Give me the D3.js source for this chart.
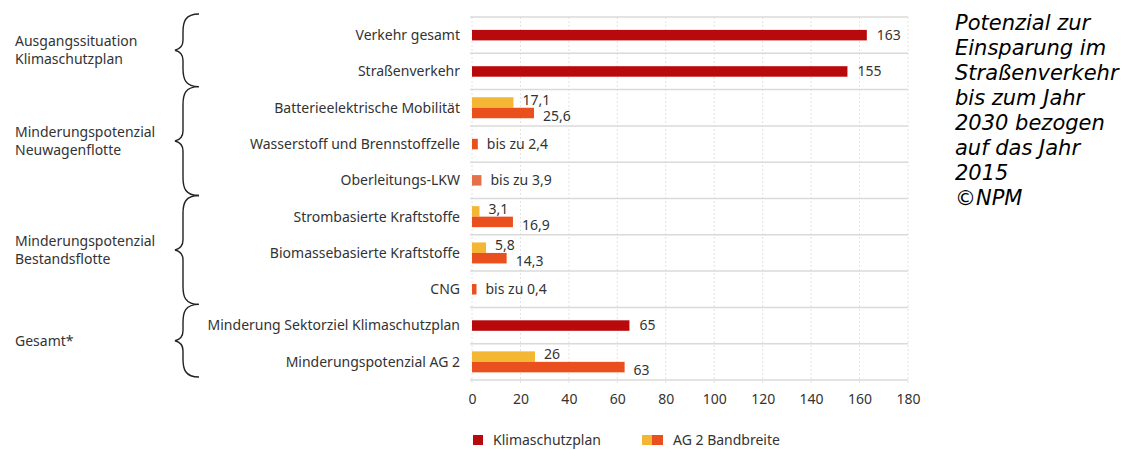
<!DOCTYPE html>
<html>
<head>
<meta charset="utf-8">
<script src="https://cdn.jsdelivr.net/npm/d3@7"></script>
<style>
  body { margin: 0; background: #fff; }
  svg text { font-family: "Noto Sans", sans-serif; fill: #333; }
</style>
</head>
<body>
<div id="chart"></div>
<script>
// Categories (top to bottom)
var categories = [
  'Verkehr gesamt',
  'Straßenverkehr',
  'Batterieelektrische Mobilität',
  'Wasserstoff und Brennstoffzelle',
  'Oberleitungs-LKW',
  'Strombasierte Kraftstoffe',
  'Biomassebasierte Kraftstoffe',
  'CNG',
  'Minderung Sektorziel Klimaschutzplan',
  'Minderungspotenzial AG 2'
]

// Klimaschutzplan values
var klima = [163, 155, null, null, null, null, null, null, 65, null]
// AG 2 Bandbreite: lower and upper end
var agLow = [null, null, 17.1, null, null, 3.1, 5.8, null, null, 26]
var agHigh = [null, null, 25.6, 2.4, 3.9, 16.9, 14.3, 0.4, null, 63]
// rows labelled "bis zu"
var upTo = ['Wasserstoff und Brennstoffzelle', 'Oberleitungs-LKW', 'CNG']

// Group brackets
var groups = [
  { lines: ['Ausgangssituation', 'Klimaschutzplan'], from: 0, to: 1 },
  { lines: ['Minderungspotenzial', 'Neuwagenflotte'], from: 2, to: 4 },
  { lines: ['Minderungspotenzial', 'Bestandsflotte'], from: 5, to: 7 },
  { lines: ['Gesamt*'], from: 8, to: 9 }
]

var xTicks = [0, 20, 40, 60, 80, 100, 120, 140, 160, 180]

var note = ['Potenzial zur', 'Einsparung im', 'Straßenverkehr', 'bis zum Jahr',
  '2030 bezogen', 'auf das Jahr', '2015', '©NPM']

var colors = {
  klima: '#b8090d',
  low: '#f4b733',
  high: '#e9501d',
  highLight: '#e5714b',
  grid: '#dadada'
}

var width = 1122
var height = 450
var barH = 10.5

var svg = d3.select('#chart').append('svg')
  .attr('width', width)
  .attr('height', height)

var x = d3.scaleLinear().domain([0, 180]).range([472, 908])
var y = d3.scaleBand().domain(categories).range([17, 380])

function fmt(v) {
  return String(v).replace('.', ',')
}

// vertical dotted grid
svg.append('g')
  .selectAll('line')
  .data(xTicks)
  .enter()
  .append('line')
  .attr('x1', function(d) { return x(d) })
  .attr('x2', function(d) { return x(d) })
  .attr('y1', 17)
  .attr('y2', 385)
  .style('stroke', '#e2e2e2')
  .style('stroke-width', 1)
  .style('stroke-dasharray', '2,2')

// horizontal row lines
var bounds = categories.map(function(c) { return y(c) }).concat([y.range()[1]])
svg.append('g')
  .selectAll('line')
  .data(bounds)
  .enter()
  .append('line')
  .attr('x1', x(0) - 2)
  .attr('x2', x(180))
  .attr('y1', function(d) { return d })
  .attr('y2', function(d) { return d })
  .style('stroke', colors.grid)
  .style('stroke-width', 1.5)

// x axis labels
var xAxis = d3.axisBottom(x).tickValues(xTicks).tickSize(0).tickPadding(0)
var ax = svg.append('g')
  .attr('transform', 'translate(0,394)')
  .call(xAxis)
ax.select('.domain').remove()
ax.selectAll('text')
  .style('font-size', '14px')
  .style('font-family', '"Noto Sans", sans-serif')
  .attr('fill', '#333')

// category labels
svg.append('g')
  .selectAll('text')
  .data(categories)
  .enter()
  .append('text')
  .attr('x', 460)
  .attr('y', function(d) { return y(d) + y.bandwidth() / 2 })
  .attr('dy', '0.35em')
  .attr('text-anchor', 'end')
  .style('font-size', '14px')
  .text(function(d) { return d })

// bars
var rows = categories.map(function(c, i) {
  return { cat: c, klima: klima[i], low: agLow[i], high: agHigh[i], upTo: upTo.indexOf(c) >= 0 }
})
var bars = svg.append('g')

function barWidth(v) {
  return Math.max(x(v) - x(0), 4.5)
}

rows.forEach(function(r) {
  var cy = y(r.cat) + y.bandwidth() / 2
  if (r.klima != null) {
    bars.append('rect')
      .attr('x', x(0)).attr('y', cy - barH / 2)
      .attr('width', barWidth(r.klima)).attr('height', barH)
      .style('fill', colors.klima)
    bars.append('text')
      .attr('x', x(r.klima) + 10).attr('y', cy).attr('dy', '0.35em')
      .style('font-size', '14px')
      .text(fmt(r.klima))
  } else if (r.low == null) {
    bars.append('rect')
      .attr('x', x(0)).attr('y', cy - barH / 2)
      .attr('width', barWidth(r.high)).attr('height', barH)
      .style('fill', r.cat === 'Oberleitungs-LKW' ? colors.highLight : colors.high)
    bars.append('text')
      .attr('x', x(0) + barWidth(r.high) + 9).attr('y', cy).attr('dy', '0.35em')
      .style('font-size', '14px')
      .text('bis zu ' + fmt(r.high))
  } else {
    bars.append('rect')
      .attr('x', x(0)).attr('y', cy - barH)
      .attr('width', barWidth(r.low)).attr('height', barH)
      .style('fill', colors.low)
    bars.append('rect')
      .attr('x', x(0)).attr('y', cy)
      .attr('width', barWidth(r.high)).attr('height', barH)
      .style('fill', colors.high)
    bars.append('text')
      .attr('x', x(r.low) + 9).attr('y', cy - 7.5).attr('dy', '0.35em')
      .style('font-size', '14px')
      .text(fmt(r.low))
    bars.append('text')
      .attr('x', x(r.high) + 9).attr('y', cy + 8.5).attr('dy', '0.35em')
      .style('font-size', '14px')
      .text(fmt(r.high))
  }
})

// group brackets and labels
function brace(xr, y0, y1) {
  var xm = xr - 16
  var xl = xr - 24
  var ym = (y0 + y1) / 2
  return 'M' + xr + ',' + y0 +
    'C' + (xm + 2) + ',' + y0 + ' ' + xm + ',' + (y0 + 8) + ' ' + xm + ',' + (y0 + 18) +
    'L' + xm + ',' + (ym - 10) +
    'C' + xm + ',' + (ym - 4) + ' ' + (xl + 4) + ',' + (ym - 1) + ' ' + xl + ',' + ym +
    'C' + (xl + 4) + ',' + (ym + 1) + ' ' + xm + ',' + (ym + 4) + ' ' + xm + ',' + (ym + 10) +
    'L' + xm + ',' + (y1 - 18) +
    'C' + xm + ',' + (y1 - 8) + ' ' + (xm + 2) + ',' + y1 + ' ' + xr + ',' + y1
}

groups.forEach(function(g) {
  var y0 = y(categories[g.from]) - 3
  var y1 = y(categories[g.to]) + y.bandwidth() - 3
  if (g.from === 0) y0 = 14
  svg.append('path')
    .attr('d', brace(199, y0, y1))
    .style('fill', 'none')
    .style('stroke', '#222')
    .style('stroke-width', 1.4)
  var ym = (y0 + y1) / 2
  var t = svg.append('text')
    .attr('x', 15)
    .style('font-size', '14px')
  g.lines.forEach(function(l, i) {
    t.append('tspan')
      .attr('x', 15)
      .attr('y', ym + (i - (g.lines.length - 1) / 2) * 18)
      .attr('dy', '0.35em')
      .text(l)
  })
})

// legend
var lg = svg.append('g').attr('transform', 'translate(0,440)')
lg.append('rect').attr('x', 473).attr('y', -5).attr('width', 10).attr('height', 10).style('fill', colors.klima)
lg.append('text').attr('x', 493).attr('y', 0).attr('dy', '0.35em').style('font-size', '14px').text('Klimaschutzplan')
lg.append('rect').attr('x', 642).attr('y', -5).attr('width', 11).attr('height', 10).style('fill', colors.low)
lg.append('rect').attr('x', 652).attr('y', -5).attr('width', 11).attr('height', 10).style('fill', colors.high)
lg.append('text').attr('x', 673).attr('y', 0).attr('dy', '0.35em').style('font-size', '14px').text('AG 2 Bandbreite')

// side note
svg.append('g')
  .selectAll('text')
  .data(note)
  .enter()
  .append('text')
  .attr('x', 955)
  .attr('y', function(d, i) { return 23 + i * 25 })
  .attr('dy', '0.35em')
  .style('font-family', '"DejaVu Sans", sans-serif')
  .style('font-style', 'italic')
  .style('font-size', '21px')
  .style('fill', '#000')
  .text(function(d) { return d })
</script>
</body>
</html>
